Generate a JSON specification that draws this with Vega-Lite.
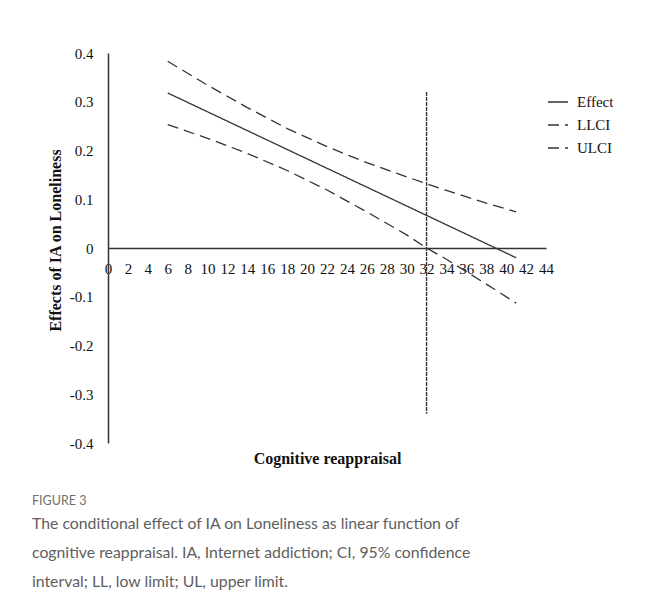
{
  "$schema": "https://vega.github.io/schema/vega-lite/v6.json",
  "width": 438,
  "height": 390,
  "autosize": "none",
  "padding": {"left": 108, "top": 53, "right": 100, "bottom": 157},
  "background": "white",
  "config": {
    "view": {"stroke": null},
    "font": "Liberation Serif",
    "axis": {
      "labelOverlap": false,
      "labelFlush": false,
      "labelBound": false,
      "grid": false,
      "ticks": false,
      "domainColor": "#333333",
      "domainWidth": 1.5,
      "labelFont": "Liberation Serif",
      "labelFontSize": 15,
      "labelColor": "#111111",
      "titleFont": "Liberation Serif",
      "titleFontSize": 16,
      "titleFontWeight": "bold",
      "titleColor": "#111111"
    }
  },
  "title": {
    "text": "FIGURE 3",
    "subtitle": [
      "The conditional effect of IA on Loneliness as linear function of",
      "cognitive reappraisal. IA, Internet addiction; CI, 95% confidence",
      "interval; LL, low limit; UL, upper limit."
    ],
    "orient": "bottom",
    "anchor": "start",
    "frame": "group",
    "dx": -76,
    "offset": 29,
    "font": "Lato",
    "fontSize": 12.5,
    "fontWeight": "normal",
    "color": "#707070",
    "subtitleFont": "Lato",
    "subtitleFontSize": 15.8,
    "subtitleFontWeight": "normal",
    "subtitleColor": "#5e5e5e",
    "subtitleLineHeight": 29,
    "subtitlePadding": 9
  },
  "encoding": {
    "x": {
      "field": "x",
      "type": "quantitative",
      "scale": {"domain": [0, 44], "nice": false, "zero": false},
      "axis": {
        "title": "Cognitive reappraisal",
        "values": [0, 2, 4, 6, 8, 10, 12, 14, 16, 18, 20, 22, 24, 26, 28, 30, 32, 34, 36, 38, 40, 42, 44],
        "labelOverlap": false,
        "offset": -195,
        "labelPadding": 20,
        "labelBaseline": "middle",
        "titleY": 210,
        "titleBaseline": "middle"
      }
    },
    "y": {
      "field": "y",
      "type": "quantitative",
      "scale": {"domain": [-0.4, 0.4], "nice": false, "zero": false},
      "axis": {
        "title": "Effects of IA on Loneliness",
        "values": [-0.4, -0.3, -0.2, -0.1, 0, 0.1, 0.2, 0.3, 0.4],
        "labelOverlap": false,
        "labelExpr": "toString(round(datum.value * 10) / 10)",
        "labelPadding": 15,
        "titleX": -53,
        "titleY": 187,
        "titleAngle": -90,
        "titleAlign": "center",
        "titleBaseline": "middle"
      }
    }
  },
  "layer": [
    {
      "data": {
        "values": [
          {"x": 6, "y": 0.318, "series": "Effect"},
          {"x": 41, "y": -0.020, "series": "Effect"},
          {"x": 6, "y": 0.253, "series": "LLCI"},
          {"x": 10, "y": 0.225, "series": "LLCI"},
          {"x": 14, "y": 0.194, "series": "LLCI"},
          {"x": 18, "y": 0.159, "series": "LLCI"},
          {"x": 22, "y": 0.119, "series": "LLCI"},
          {"x": 26, "y": 0.074, "series": "LLCI"},
          {"x": 30, "y": 0.027, "series": "LLCI"},
          {"x": 32, "y": 0.0, "series": "LLCI"},
          {"x": 34, "y": -0.023, "series": "LLCI"},
          {"x": 38, "y": -0.074, "series": "LLCI"},
          {"x": 41, "y": -0.113, "series": "LLCI"},
          {"x": 6, "y": 0.383, "series": "ULCI"},
          {"x": 10, "y": 0.334, "series": "ULCI"},
          {"x": 14, "y": 0.288, "series": "ULCI"},
          {"x": 18, "y": 0.245, "series": "ULCI"},
          {"x": 22, "y": 0.208, "series": "ULCI"},
          {"x": 26, "y": 0.175, "series": "ULCI"},
          {"x": 30, "y": 0.146, "series": "ULCI"},
          {"x": 32, "y": 0.132, "series": "ULCI"},
          {"x": 34, "y": 0.118, "series": "ULCI"},
          {"x": 38, "y": 0.092, "series": "ULCI"},
          {"x": 41, "y": 0.074, "series": "ULCI"}
        ]
      },
      "mark": {"type": "line", "strokeWidth": 1.3, "color": "#333333"},
      "encoding": {
        "strokeDash": {
          "field": "series",
          "type": "nominal",
          "scale": {"domain": ["Effect", "LLCI", "ULCI"], "range": [[1, 0], [11, 6], [11, 6]]},
          "legend": {
            "orient": "none",
            "legendX": 439,
            "legendY": 38,
            "title": null,
            "symbolType": "stroke",
            "symbolSize": 400,
            "symbolStrokeColor": "#333333",
            "symbolStrokeWidth": 1.3,
            "labelFont": "Liberation Serif",
            "labelFontSize": 15,
            "labelColor": "#111111",
            "labelOffset": 8,
            "rowPadding": 4,
            "encode": {
              "symbols": {
                "update": {
                  "strokeDash": {"signal": "datum.value === 'Effect' ? [1, 0] : [8, 4]"}
                }
              }
            }
          }
        }
      }
    },
    {
      "data": {"values": [{"x": 32, "y": 0.32, "ybottom": -0.34}]},
      "mark": {"type": "rule", "strokeDash": [4, 1], "strokeWidth": 1.4, "color": "#333333"},
      "encoding": {
        "y2": {"field": "ybottom"}
      }
    }
  ]
}
